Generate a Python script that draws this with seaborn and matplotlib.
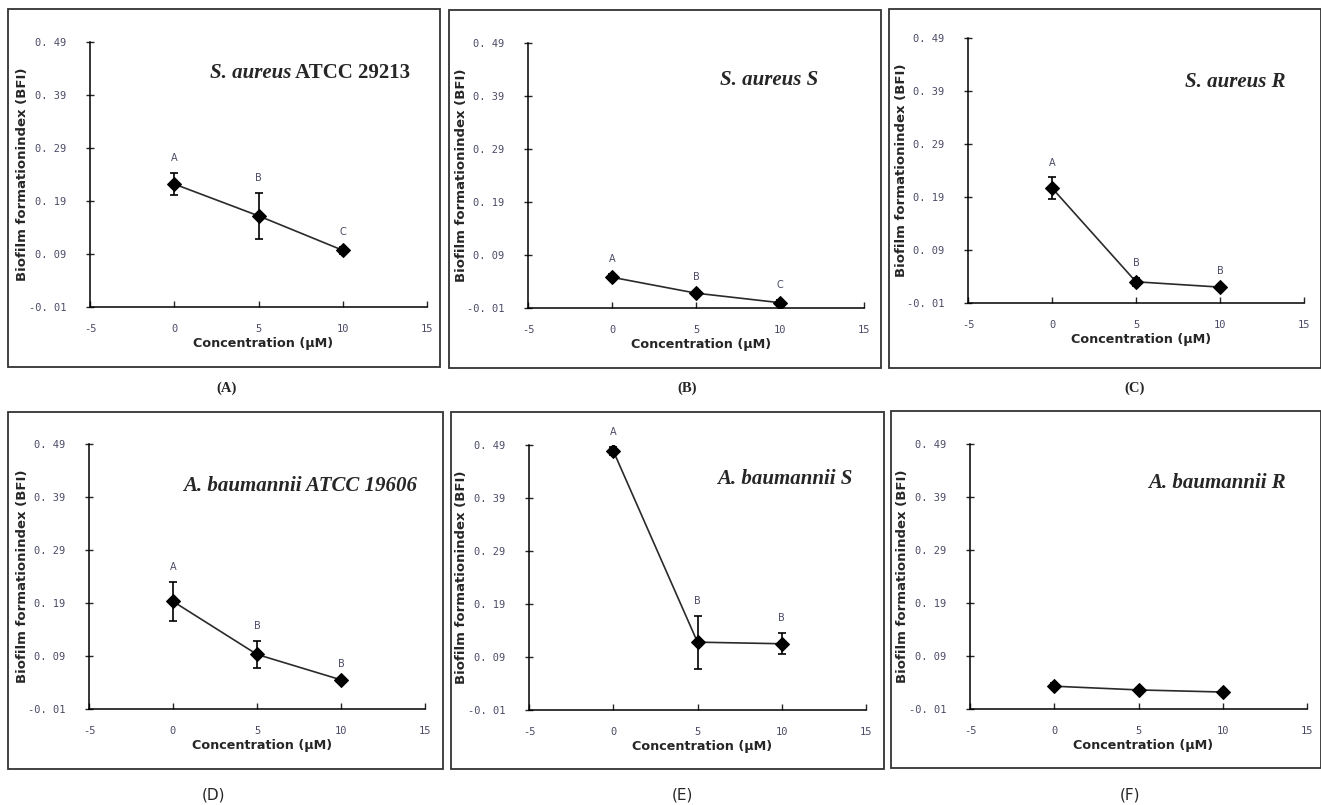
"""
Biofilm formation index vs concentration, six strains (A-F)
Output: out.png
"""

import matplotlib
matplotlib.use('Agg')
import matplotlib.pyplot as plt
import numpy as np
import pandas as pd
import seaborn as sns

# --- data ---
concentrations = [0, 5, 10]

strains = ['S. aureus ATCC 29213', 'S. aureus S', 'S. aureus R',
           'A. baumannii ATCC 19606', 'A. baumannii S', 'A. baumannii R']
panel_labels = ['(A)', '(B)', '(C)', '(D)', '(E)', '(F)']

bfi_a = [0.222, 0.162, 0.097]
err_a = [0.021, 0.043, 0.007]
bfi_b = [0.048, 0.018, 0.000]
err_b = [0.006, 0.003, 0.006]
bfi_c = [0.207, 0.030, 0.020]
err_c = [0.020, 0.008, 0.003]
bfi_d = [0.193, 0.093, 0.045]
err_d = [0.037, 0.025, 0.003]
bfi_e = [0.479, 0.118, 0.115]
err_e = [0.007, 0.050, 0.020]
bfi_f = [0.033, 0.026, 0.022]
err_f = [0.006, 0.004, 0.002]

letters_a = ['A', 'B', 'C']
letters_b = ['A', 'B', 'C']
letters_c = ['A', 'B', 'B']
letters_d = ['A', 'B', 'B']
letters_e = ['A', 'B', 'B']
letters_f = ['', '', '']

x_ticks = [-5, 0, 5, 10, 15]
y_ticks = [-0.01, 0.09, 0.19, 0.29, 0.39, 0.49]
y_tick_labels = ['-0. 01', '0. 09', '0. 19', '0. 29', '0. 39', '0. 49']

# --- layout (pixels in a 1321x805 canvas) ---
W, H = 1321, 805
axes_px = [(90, 42, 427, 307), (528, 43, 864, 308), (968, 38, 1304, 303),
           (89, 444, 425, 709), (529, 445, 866, 710), (970, 444, 1307, 709)]
frames_px = [(8, 9, 440, 367), (449, 10, 881, 368), (889, 9, 1321, 368),
             (8, 412, 443, 769), (451, 412, 884, 769), (891, 411, 1321, 768)]
label_px = [(227, 388), (687, 388), (1135, 388), (213, 795), (682, 795), (1130, 795)]
title_pos = [(0.356, 0.883), (0.571, 0.86), (0.646, 0.834),
             (0.28, 0.84), (0.558, 0.872), (0.528, 0.853)]

TICK_COLOR = '#4a4a66'
SERIF = 'Liberation Serif'


def px_rect(x0, y0, x1, y1):
    return [x0 / W, 1 - y1 / H, (x1 - x0) / W, (y1 - y0) / H]


def draw_panel(fig, i, means, errs, letters):
    ax = fig.add_axes(px_rect(*axes_px[i]))
    df = pd.DataFrame({'conc': concentrations, 'bfi': means})

    ax.errorbar(concentrations, means, yerr=errs, fmt='none', ecolor='black',
                elinewidth=1.2, capsize=3, capthick=1.2, zorder=2)
    sns.lineplot(data=df, x='conc', y='bfi', ax=ax, color='#2a2a2a',
                 linewidth=1.2, marker='D', markersize=7,
                 markerfacecolor='black', markeredgecolor='black', zorder=3)

    for xv, m, e, lt in zip(concentrations, means, errs, letters):
        if lt:
            ax.annotate(lt, xy=(xv, m + e), xytext=(0, 7), textcoords='offset points',
                        ha='center', va='bottom', fontsize=7, color=TICK_COLOR,
                        family='DejaVu Sans')

    ax.set_xlim(-5, 15)
    ax.set_ylim(-0.01, 0.49)
    ax.set_xticks(x_ticks)
    ax.set_xticklabels([str(v) for v in x_ticks], family='DejaVu Sans Mono',
                       fontsize=7.5, color=TICK_COLOR)
    ax.set_yticks(y_ticks)
    ax.set_yticklabels(y_tick_labels, family='DejaVu Sans Mono',
                       fontsize=7.5, color=TICK_COLOR)
    ax.tick_params(axis='x', direction='in', length=4, width=1, pad=12)
    ax.tick_params(axis='y', direction='inout', length=6, width=1, pad=14)

    ax.set_xlabel('Concentration (µM)', fontsize=9.2, fontweight='bold',
                  family='DejaVu Sans')
    ax.xaxis.set_label_coords(0.515, -0.115)
    ax.set_ylabel('Biofilm formationindex (BFI)', fontsize=9.5, fontweight='bold',
                  family='DejaVu Sans')
    ax.yaxis.set_label_coords(-0.18, 0.5)

    for side in ['top', 'right']:
        ax.spines[side].set_visible(False)
    for side in ['left', 'bottom']:
        ax.spines[side].set_color('black')
        ax.spines[side].set_linewidth(1.1)
    ax.set_facecolor('white')
    ax.grid(False)

    # species name
    tx, ty = title_pos[i]
    name = strains[i]
    if name.endswith('ATCC 29213'):
        t1 = ax.text(tx, ty, 'S. aureus', transform=ax.transAxes, fontsize=15,
                     fontweight='bold', style='italic', family=SERIF, va='center')
        ax.annotate(' ATCC 29213', xy=(1, 0), xycoords=t1, va='bottom', ha='left',
                    fontsize=15, fontweight='bold', family=SERIF)
    else:
        ax.text(tx, ty, name, transform=ax.transAxes, fontsize=15,
                fontweight='bold', style='italic', family=SERIF, va='center')
    return ax


def create_chart():
    sns.set_style('ticks')
    fig = plt.figure(figsize=(W / 100, H / 100), dpi=100)
    fig.patch.set_facecolor('white')

    for (x0, y0, x1, y1) in frames_px:
        fig.add_artist(plt.Rectangle((x0 / W, 1 - y1 / H), (x1 - x0) / W, (y1 - y0) / H,
                                     transform=fig.transFigure, fill=False,
                                     edgecolor='#333333', linewidth=1.3))

    panels = [(bfi_a, err_a, letters_a), (bfi_b, err_b, letters_b),
              (bfi_c, err_c, letters_c), (bfi_d, err_d, letters_d),
              (bfi_e, err_e, letters_e), (bfi_f, err_f, letters_f)]
    for i, (means, errs, letters) in enumerate(panels):
        draw_panel(fig, i, means, errs, letters)

    for i, (lx, ly) in enumerate(label_px):
        if i < 3:
            fig.text(lx / W, 1 - ly / H, panel_labels[i], ha='center', va='center',
                     fontsize=10.5, fontweight='bold', family=SERIF)
        else:
            fig.text(lx / W, 1 - ly / H, panel_labels[i], ha='center', va='center',
                     fontsize=11, family='DejaVu Sans')

    fig.savefig('out.png', dpi=100)
    plt.close(fig)


if __name__ == '__main__':
    create_chart()
